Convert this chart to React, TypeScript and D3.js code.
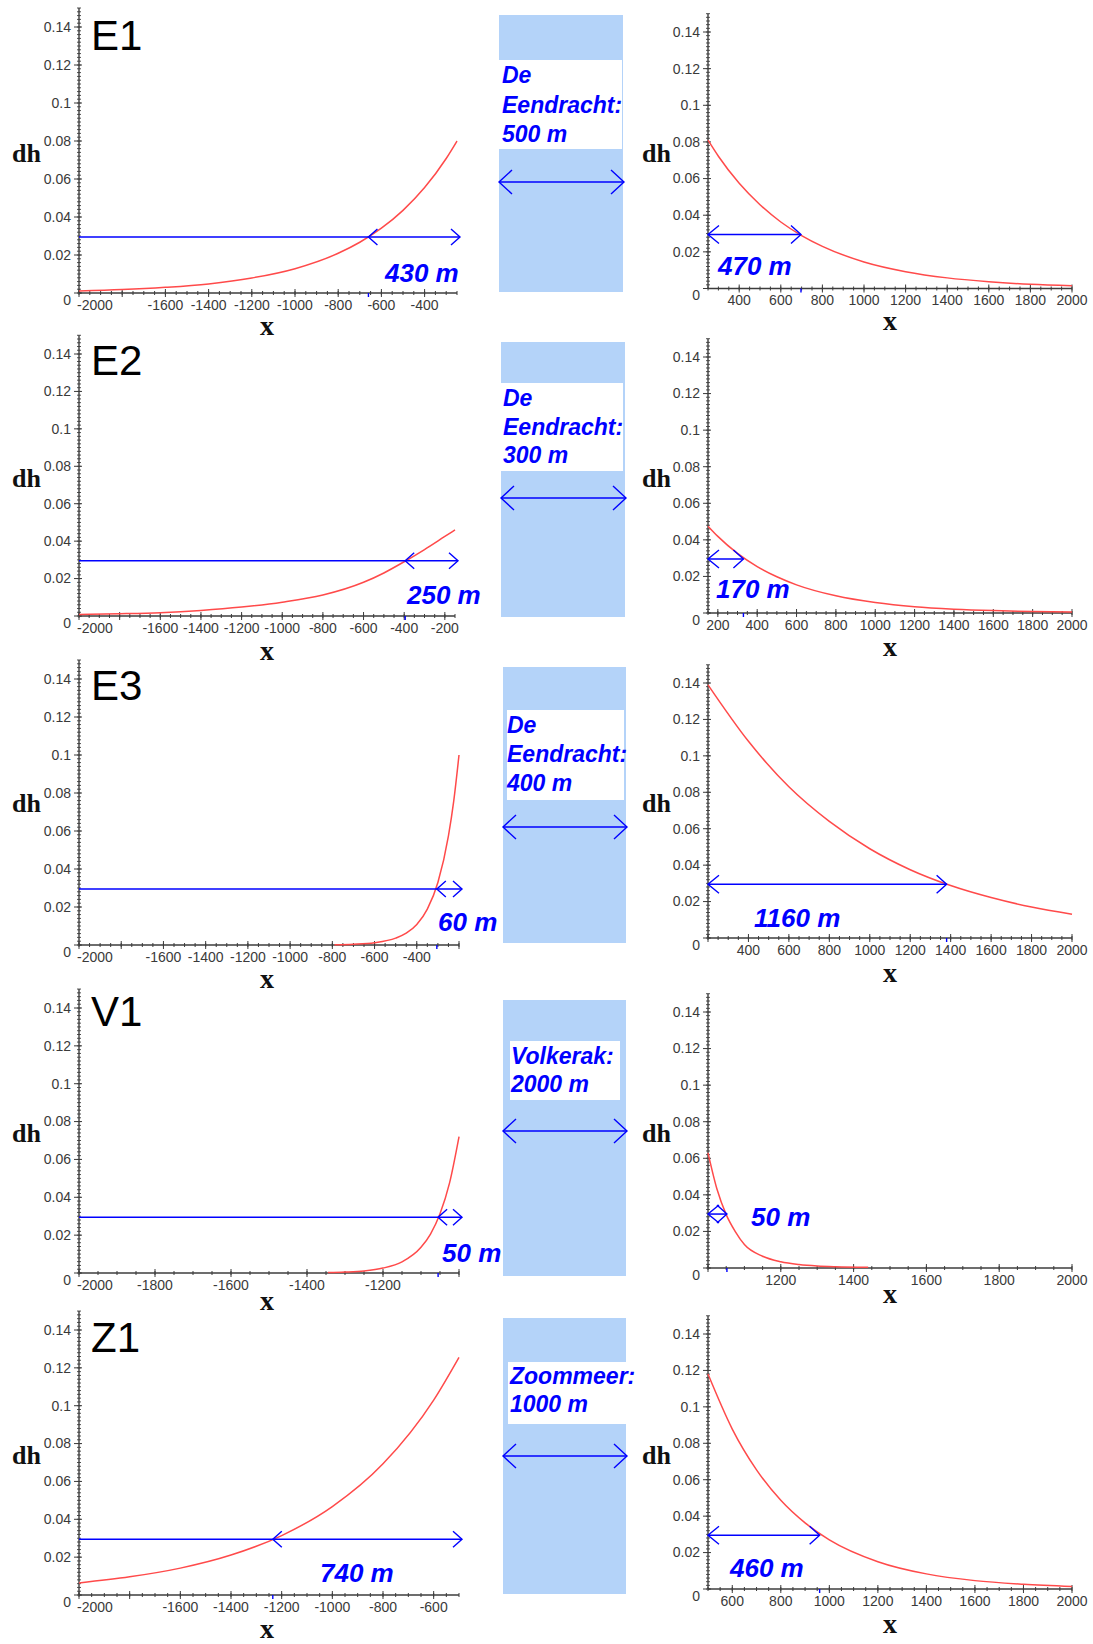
import React from "react";
import * as d3 from "d3";

// ---------- data ----------
const panelNames = ["E1", "E2", "E3", "V1", "Z1"];
const boxLines = [
  ["De", "Eendracht:", "500 m"],
  ["De", "Eendracht:", "300 m"],
  ["De", "Eendracht:", "400 m"],
  ["Volkerak:", "2000 m"],
  ["Zoommeer:", "1000 m"],
];
const leftDomains = [[-2000, -250], [-2000, -150], [-2000, -200], [-2000, -1000], [-2000, -500]];
const rightDomains = [[250, 2000], [150, 2000], [200, 2000], [1000, 2000], [500, 2000]];
const leftTickLabels = [
  [-2000, -1600, -1400, -1200, -1000, -800, -600, -400],
  [-2000, -1600, -1400, -1200, -1000, -800, -600, -400, -200],
  [-2000, -1600, -1400, -1200, -1000, -800, -600, -400],
  [-2000, -1800, -1600, -1400, -1200],
  [-2000, -1600, -1400, -1200, -1000, -800, -600],
];
const rightTickLabels = [
  [400, 600, 800, 1000, 1200, 1400, 1600, 1800, 2000],
  [200, 400, 600, 800, 1000, 1200, 1400, 1600, 1800, 2000],
  [400, 600, 800, 1000, 1200, 1400, 1600, 1800, 2000],
  [1200, 1400, 1600, 1800, 2000],
  [600, 800, 1000, 1200, 1400, 1600, 1800, 2000],
];
const yTickValues = [0, 0.02, 0.04, 0.06, 0.08, 0.1, 0.12, 0.14];
const yTickLabels = ["0", "0.02", "0.04", "0.06", "0.08", "0.1", "0.12", "0.14"];
const threshold = 0.0295;

const e1Left = [[-2000, 0.0011], [-1800, 0.0018], [-1600, 0.003], [-1400, 0.0048], [-1200, 0.0079], [-1000, 0.0128], [-800, 0.0209], [-700, 0.0267], [-600, 0.0341], [-500, 0.0435], [-400, 0.0555], [-300, 0.0708], [-250, 0.08]];
const e1Right = [[250, 0.081], [300, 0.0722], [400, 0.0574], [500, 0.0457], [600, 0.0363], [700, 0.0289], [800, 0.023], [1000, 0.0145], [1200, 0.0092], [1400, 0.0058], [1600, 0.0037], [1800, 0.0023], [2000, 0.0015]];
const e2Left = [[-2000, 0.0008], [-1800, 0.0012], [-1600, 0.0018], [-1400, 0.003], [-1200, 0.0048], [-1000, 0.0074], [-800, 0.0112], [-600, 0.018], [-500, 0.023], [-400, 0.029], [-300, 0.0355], [-200, 0.0425], [-150, 0.046]];
const e2Right = [[150, 0.0475], [200, 0.0419], [300, 0.0326], [400, 0.0254], [500, 0.0198], [600, 0.0154], [800, 0.0094], [1000, 0.0057], [1200, 0.0034], [1400, 0.0021], [1600, 0.0013], [1800, 0.0008], [2000, 0.0005]];
const e3Left = [[-790, 0.0001], [-700, 0.0004], [-600, 0.0012], [-500, 0.0036], [-450, 0.0062], [-400, 0.0108], [-350, 0.0189], [-300, 0.0329], [-250, 0.0574], [-225, 0.0757], [-200, 0.1]];
const e3Right = [[200, 0.139], [400, 0.108], [600, 0.083], [800, 0.064], [1000, 0.049], [1200, 0.0375], [1400, 0.0288], [1600, 0.0222], [1800, 0.017], [2000, 0.0131]];
const v1Left = [[-1345, 0.0002], [-1300, 0.0005], [-1250, 0.0011], [-1200, 0.0026], [-1150, 0.0059], [-1100, 0.0136], [-1075, 0.0206], [-1050, 0.0313], [-1025, 0.0475], [-1000, 0.072]];
const v1Right = [[1000, 0.063], [1025, 0.0429], [1050, 0.0292], [1075, 0.0199], [1100, 0.0128], [1150, 0.0064], [1200, 0.0034], [1250, 0.0019], [1300, 0.0011], [1350, 0.0007], [1440, 0.0004]];
const z1Left = [[-2000, 0.0064], [-1800, 0.0096], [-1600, 0.0142], [-1400, 0.0211], [-1200, 0.0314], [-1000, 0.0467], [-800, 0.0693], [-600, 0.103], [-500, 0.1256]];
const z1Right = [[500, 0.118], [600, 0.0878], [700, 0.0654], [800, 0.0487], [900, 0.0363], [1000, 0.027], [1200, 0.015], [1400, 0.0083], [1600, 0.0046], [1800, 0.0026], [2000, 0.0014]];
const leftCurves = [e1Left, e2Left, e3Left, v1Left, z1Left];
const rightCurves = [e1Right, e2Right, e3Right, v1Right, z1Right];
const leftCross = [-660, -395, -305, -1055, -1235];
const rightCross = [697, 330, 1380, 1052, 960];
const leftReach = ["430 m", "250 m", "60 m", "50 m", "740 m"];
const rightReach = ["470 m", "170 m", "1160 m", "50 m", "460 m"];

// ---------- layout (pixels) ----------
const rows = [
  { ly0: 293, ly14: 27, lxEnd: 457, ry0: 288.5, ry14: 32, box: [499, 623, 15, 292], white: [499, 622, 60, 149], tx: 502, tb: [83, 113, 142], ay: 182, lr: [385, 282], rr: [718, 275], py: 50, dhy: 162, xl: 335, xr: 330 },
  { ly0: 616, ly14: 354, lxEnd: 455, ry0: 613, ry14: 357, box: [501, 625, 342, 617], white: [501, 623, 383, 471], tx: 503, tb: [406, 435, 463], ay: 498, lr: [407, 604], rr: [716, 598], py: 375, dhy: 487, xl: 660, xr: 656 },
  { ly0: 945, ly14: 679, lxEnd: 459, ry0: 938, ry14: 683, box: [503, 626, 667, 943], white: [507, 624, 710, 800], tx: 507, tb: [733, 762, 791], ay: 827, lr: [438, 931], rr: [754, 927], py: 700, dhy: 812, xl: 988, xr: 982 },
  { ly0: 1273, ly14: 1008, lxEnd: 459, ry0: 1268, ry14: 1012, box: [503, 626, 1000, 1276], white: [510, 620, 1041, 1100], tx: 511, tb: [1064, 1092], ay: 1131, lr: [442, 1262], rr: [751, 1226], py: 1026, dhy: 1142, xl: 1310, xr: 1303 },
  { ly0: 1595, ly14: 1330, lxEnd: 459, ry0: 1589, ry14: 1334, box: [503, 626, 1318, 1594], white: [508, 640, 1362, 1424], tx: 510, tb: [1384, 1412], ay: 1456, lr: [320, 1582], rr: [730, 1577], py: 1352, dhy: 1464, xl: 1638, xr: 1633 },
];
const LX0 = 79;
const RX0 = 708;
const RX1 = 1072;

const BLUE = "#0000ff";
const RED = "#ff4a4a";
const AXIS = "#3c3c3c";
const TICKTXT = "#3a3a3a";
const SANS = "'Liberation Sans', Arial, sans-serif";
const SERIF = "'Liberation Serif', 'Times New Roman', serif";

function Chevron({ x, y, dir, len, half }: { x: number; y: number; dir: number; len: number; half: number }) {
  // dir = 1 points right, -1 points left
  const bx = x - dir * len;
  return <path d={`M${bx},${y - half}L${x},${y}L${bx},${y + half}`} fill="none" stroke={BLUE} strokeWidth={1.4} />;
}

function Panel(props: {
  domain: number[]; x0: number; x1: number; y0: number; y14: number;
  curve: number[][]; labels: number[]; left: boolean; cross: number;
  reach: string; reachPos: number[]; dhX: number; dhY: number; xLabX: number; xLabY: number;
}) {
  const { domain, x0, x1, y0, y14, curve, labels, left, cross, reach, reachPos } = props;
  const xs = d3.scaleLinear().domain(domain).range([x0, x1]);
  const ys = d3.scaleLinear().domain([0, 0.14]).range([y0, y14]);
  const yTop = ys(0.15);
  const line = d3.line<number[]>().x((d) => xs(d[0])).y((d) => ys(d[1])).curve(d3.curveMonotoneX);
  const minorX: number[] = [];
  for (let v = Math.ceil(domain[0] / 50) * 50; v <= domain[1] + 1e-9; v += 50) minorX.push(v);
  const majorX = minorX.filter((v) => v % 200 === 0);
  const minorY: number[] = [];
  for (let i = 0; i <= 75; i++) minorY.push(i * 0.002);
  const ty = ys(threshold);
  const cx = xs(cross);
  const endX = left ? xs(domain[1]) + 3 : cx;
  return (
    <g>
      {/* axes */}
      <line x1={x0} x2={x1} y1={y0} y2={y0} stroke={AXIS} strokeWidth={1.4} />
      <line x1={x0} x2={x0} y1={y0} y2={yTop} stroke={AXIS} strokeWidth={1.4} />
      {minorX.map((v) => (
        <line key={"mx" + v} x1={xs(v)} x2={xs(v)} y1={y0 - 2} y2={y0 + 2} stroke={AXIS} strokeWidth={1} />
      ))}
      {majorX.map((v) => (
        <line key={"Mx" + v} x1={xs(v)} x2={xs(v)} y1={y0 - 4} y2={y0 + 4} stroke={AXIS} strokeWidth={1} />
      ))}
      {minorY.map((v, i) => (
        <line key={"my" + i} x1={x0 - 2} x2={x0 + 2} y1={ys(v)} y2={ys(v)} stroke={AXIS} strokeWidth={0.9} />
      ))}
      {yTickValues.map((v) => (
        <line key={"My" + v} x1={x0 - 5} x2={x0 + 3} y1={ys(v)} y2={ys(v)} stroke={AXIS} strokeWidth={1} />
      ))}
      {yTickValues.map((v, i) => (
        <text key={"yl" + v} x={x0 - 8} y={v === 0 ? ys(v) + 7 : ys(v)} dy="0.35em" textAnchor="end"
          fontFamily={SANS} fontSize={14} fill={TICKTXT}>{yTickLabels[i]}</text>
      ))}
      {labels.map((v, i) => (
        <text key={"xl" + v} x={left && i === 0 ? x0 - 2 : xs(v)} y={y0 + 12} dy="0.35em"
          textAnchor={left && i === 0 ? "start" : "middle"} fontFamily={SANS} fontSize={14} fill={TICKTXT}>{String(v)}</text>
      ))}
      {/* curve */}
      <path d={line(curve) || ""} fill="none" stroke={RED} strokeWidth={1.5} />
      {/* reach arrow */}
      <line x1={x0} x2={endX} y1={ty} y2={ty} stroke={BLUE} strokeWidth={1.5} />
      {left ? (
        <>
          <Chevron x={cx} y={ty} dir={-1} len={9} half={8} />
          <Chevron x={endX} y={ty} dir={1} len={9} half={8} />
        </>
      ) : (
        <>
          <Chevron x={x0} y={ty} dir={-1} len={11} half={9} />
          <Chevron x={cx} y={ty} dir={1} len={10} half={9} />
        </>
      )}
      <line x1={cx} x2={cx} y1={y0} y2={y0 + 4} stroke={BLUE} strokeWidth={1.4} />
      <text x={reachPos[0]} y={reachPos[1]} fontFamily={SANS} fontSize={26} fontWeight="bold" fontStyle="italic" fill={BLUE}>{reach}</text>
      {/* axis titles */}
      <text x={props.dhX} y={props.dhY} fontFamily={SERIF} fontSize={26} fontWeight="bold" fill="#111">dh</text>
      <text x={props.xLabX} y={props.xLabY} textAnchor="middle" fontFamily={SERIF} fontSize={28} fontWeight="bold" fill="#111">x</text>
    </g>
  );
}

export default function App() {
  return (
    <svg width={1093} height={1644} viewBox="0 0 1093 1644" style={{ position: "absolute", left: 0, top: 0, background: "#fff" }}>
      <rect x={0} y={0} width={1093} height={1644} fill="#fff" />
      {rows.map((r, i) => (
        <g key={i}>
          <Panel domain={leftDomains[i]} x0={LX0} x1={r.lxEnd} y0={r.ly0} y14={r.ly14} curve={leftCurves[i]}
            labels={leftTickLabels[i]} left={true} cross={leftCross[i]} reach={leftReach[i]} reachPos={r.lr}
            dhX={12} dhY={r.dhy} xLabX={267} xLabY={r.xl} />
          <Panel domain={rightDomains[i]} x0={RX0} x1={RX1} y0={r.ry0} y14={r.ry14} curve={rightCurves[i]}
            labels={rightTickLabels[i]} left={false} cross={rightCross[i]} reach={rightReach[i]} reachPos={r.rr}
            dhX={642} dhY={r.dhy} xLabX={890} xLabY={r.xr} />
          <text x={91} y={r.py} fontFamily={SANS} fontSize={42} fill="#000">{panelNames[i]}</text>
          {/* sluice box */}
          <rect x={r.box[0]} y={r.box[2]} width={r.box[1] - r.box[0]} height={r.box[3] - r.box[2]} fill="#b4d3f9" />
          <rect x={r.white[0]} y={r.white[2]} width={r.white[1] - r.white[0]} height={r.white[3] - r.white[2]} fill="#fff" />
          {boxLines[i].map((t, j) => (
            <text key={j} x={r.tx} y={r.tb[j]} fontFamily={SANS} fontSize={23} fontWeight="bold" fontStyle="italic" fill={BLUE}>{t}</text>
          ))}
          <line x1={r.box[0]} x2={r.box[1] + 1} y1={r.ay} y2={r.ay} stroke={BLUE} strokeWidth={1.5} />
          <Chevron x={r.box[0]} y={r.ay} dir={-1} len={13} half={12} />
          <Chevron x={r.box[1] + 1} y={r.ay} dir={1} len={13} half={12} />
        </g>
      ))}
    </svg>
  );
}
